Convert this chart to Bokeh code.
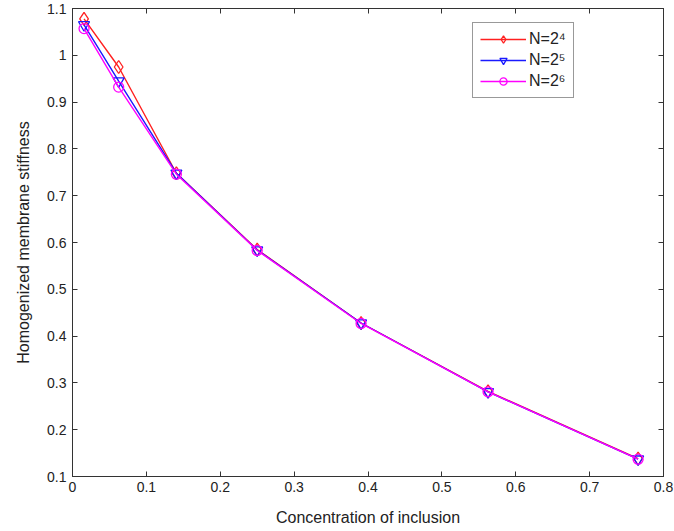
from bokeh.plotting import figure
from bokeh.models import Range1d, FixedTicker, LinearAxis, Legend, LegendItem
from bokeh.embed import file_html
from bokeh.resources import INLINE

concentration = [0.015625, 0.0625, 0.140625, 0.25, 0.390625, 0.5625, 0.765625]
stiff_n4 = [1.078, 0.975, 0.748, 0.585, 0.428, 0.282, 0.138]
stiff_n5 = [1.065, 0.945, 0.748, 0.584, 0.428, 0.281, 0.137]
stiff_n6 = [1.057, 0.932, 0.746, 0.583, 0.427, 0.281, 0.137]

x_ticks = [0, 0.1, 0.2, 0.3, 0.4, 0.5, 0.6, 0.7, 0.8]
x_tick_labels = ["0", "0.1", "0.2", "0.3", "0.4", "0.5", "0.6", "0.7", "0.8"]
y_ticks = [0.1, 0.2, 0.3, 0.4, 0.5, 0.6, 0.7, 0.8, 0.9, 1.0, 1.1]
y_tick_labels = ["0.1", "0.2", "0.3", "0.4", "0.5", "0.6", "0.7", "0.8", "0.9", "1", "1.1"]

FONT = "Liberation Sans"

p = figure(width=674, height=531, output_backend="svg", toolbar_location=None,
           x_range=Range1d(0, 0.8), y_range=Range1d(0.1, 1.1),
           min_border_left=72, min_border_right=11, min_border_top=8, min_border_bottom=55)
p.xgrid.visible = False
p.ygrid.visible = False
p.outline_line_color = "#333333"
p.outline_line_width = 1
p.background_fill_color = "white"
p.border_fill_color = "white"

def style_axis(ax, ticks, labels, show_labels=True):
    ax.ticker = FixedTicker(ticks=ticks)
    ax.major_tick_in = 5
    ax.major_tick_out = 0
    ax.minor_tick_in = 0
    ax.minor_tick_out = 0
    ax.axis_line_color = "#333333"
    ax.major_tick_line_color = "#333333"
    ax.major_label_text_font = FONT
    ax.major_label_text_font_size = "14px"
    ax.major_label_text_color = "#222222"
    ax.axis_label_text_font = FONT
    ax.axis_label_text_font_size = "16px"
    ax.axis_label_text_font_style = "normal"
    ax.axis_label_text_color = "#222222"
    if show_labels:
        ax.major_label_overrides = {t: l for t, l in zip(ticks, labels)}
    else:
        ax.major_label_overrides = {t: "" for t in ticks}
        ax.major_label_standoff = 0

style_axis(p.xaxis[0], x_ticks, x_tick_labels)
style_axis(p.yaxis[0], y_ticks, y_tick_labels)
p.xaxis[0].axis_label = "Concentration of inclusion"
p.yaxis[0].axis_label = "Homogenized membrane stiffness"
p.xaxis[0].major_label_standoff = 5
p.yaxis[0].major_label_standoff = 6
p.xaxis[0].axis_label_standoff = 14
p.yaxis[0].axis_label_standoff = 12

top_ax = LinearAxis()
right_ax = LinearAxis()
style_axis(top_ax, x_ticks, x_tick_labels, show_labels=False)
style_axis(right_ax, y_ticks, y_tick_labels, show_labels=False)
p.add_layout(top_ax, "above")
p.add_layout(right_ax, "right")

series = [
    (stiff_n4, "#ff2020", "diamond", 13, "N=2\u2074"),
    (stiff_n5, "#1a1aff", "inverted_triangle", 11, "N=2\u2075"),
    (stiff_n6, "#ff00ff", "circle", 10, "N=2\u2076"),
]
items = []
for ys, color, marker, size, label in series:
    ln = p.line(concentration, ys, line_color=color, line_width=1.4)
    sc = p.scatter(concentration, ys, marker=marker, size=size, line_color=color,
                   fill_color=None, line_width=1.3)
    items.append(LegendItem(label=label, renderers=[ln, sc]))

legend = Legend(items=items, location=(400, 378))
legend.label_text_font = FONT
legend.label_text_font_size = "16px"
legend.label_text_color = "#222222"
legend.border_line_color = "#333333"
legend.border_line_width = 1
legend.glyph_width = 46
legend.glyph_height = 18
legend.label_height = 18
legend.spacing = 3
legend.padding = 7
legend.label_standoff = 3
p.add_layout(legend, "center")

open("out.html", "w").write(file_html(p, INLINE))
